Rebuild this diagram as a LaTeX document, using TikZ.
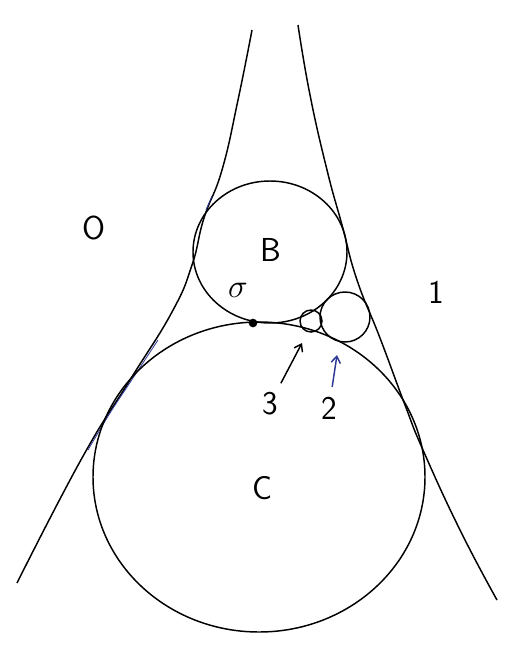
\documentclass[tikz,border=0pt]{standalone}
\usetikzlibrary{arrows.meta}
\definecolor{inkblue}{RGB}{45,55,150}

\begin{document}
\begin{tikzpicture}[x=0.75pt,y=-0.75pt,line width=1.1pt,
  lab/.style={font=\sffamily\Huge,inner sep=2pt},
  arr/.style={-{Straight Barb[length=5pt,width=7pt]},line width=1.1pt,shorten <=5pt},
  dot/.style={circle,fill,inner sep=0pt,minimum size=6.5pt}]
\useasboundingbox (0,0) rectangle (504,650);
\draw plot[smooth,tension=0.8] coordinates {(252,30) (238,100) (222,170) (204,218) (192,265) (172,312) (130,380) (82,458) (17,583)};
\draw plot[smooth,tension=0.8] coordinates {(298,25) (310,95) (327,170) (342,225) (357,280) (380,338) (405,405) (423,450) (460,530) (497,600)};
\draw[inkblue,line width=0.6pt] plot[smooth] coordinates {(158,340) (133,378) (110,413) (88,450)};
\draw[inkblue,line width=0.6pt] (212,196) -- (206,210);
\draw (270,252) ellipse [x radius=77,y radius=71];
\draw (259,477) ellipse [x radius=166,y radius=155];
\draw (345,317) circle [radius=25];
\draw (311,321) circle [radius=11];
\node[dot] (tp) at (253,323) {};
\node[lab] (nO) at (94,228) {O};
\node[lab] (nB) at (271,250) {B};
\node[lab] (ns) at (238,290) {$\sigma$};
\node[lab] (n1) at (436,292) {1};
\node[lab] (nC) at (262,488) {C};
\node[lab] (n3) at (270,404) {3};
\node[lab] (n2) at (329,408) {2};
\coordinate (h3) at (302,343);
\coordinate (h2) at (337,355);
\draw[arr] (n3) -- (h3);
\draw[arr,inkblue] (n2) -- (h2);
\end{tikzpicture}
\end{document}
